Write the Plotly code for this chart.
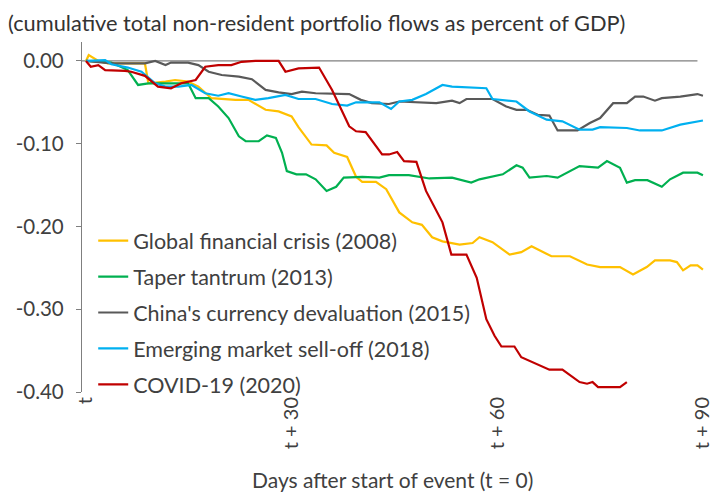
import plotly.graph_objects as go

# days after start of event (t = 0) and cumulative flows (% of GDP)
gfc_days = [0, 0.4, 1.8, 3.2, 8.6, 9.1, 11.6, 13.0, 14.9, 16.4, 18.3, 21.8, 23.7, 26.2, 28.1, 30.0,
            31.0, 32.9, 35.1, 36.2, 38.1, 39.4, 40.3, 42.3, 43.8, 45.7, 47.6, 49.0, 50.5, 52.0, 54.5,
            56.4, 57.4, 59.3, 61.8, 63.5, 65.0, 67.9, 70.6, 73.1, 75.0, 77.9, 79.8, 81.8, 83.0, 85.2,
            86.2, 87.1, 88.2, 89.2, 90.0]
gfc_vals = [0, 0.007, 0.0, -0.003, -0.003, -0.027, -0.025, -0.023, -0.025, -0.031, -0.045, -0.047,
            -0.047, -0.059, -0.061, -0.067, -0.080, -0.101, -0.102, -0.111, -0.116, -0.140, -0.146,
            -0.146, -0.155, -0.183, -0.195, -0.198, -0.213, -0.218, -0.222, -0.220, -0.213, -0.219,
            -0.234, -0.231, -0.224, -0.236, -0.236, -0.246, -0.249, -0.249, -0.258, -0.249, -0.241,
            -0.241, -0.243, -0.253, -0.247, -0.247, -0.252]

taper_days = [0, 1.8, 3.7, 6.1, 7.6, 9.1, 10.5, 12.4, 14.9, 16.0, 17.9, 19.3, 20.8, 22.3, 23.3, 25.2,
              26.4, 27.7, 28.6, 29.3, 30.7, 32.1, 33.5, 35.1, 36.5, 37.6, 40.3, 42.8, 44.2, 47.1,
              50.1, 53.4, 56.2, 57.4, 58.9, 60.8, 62.8, 63.7, 64.7, 67.2, 68.8, 70.1, 72.0, 74.7,
              76.0, 77.9, 78.9, 80.1, 81.9, 84.0, 85.2, 87.1, 89.2, 90.0]
taper_vals = [0, -0.001, -0.002, -0.011, -0.029, -0.027, -0.027, -0.027, -0.027, -0.045, -0.045,
              -0.055, -0.069, -0.091, -0.097, -0.097, -0.090, -0.093, -0.111, -0.133, -0.137,
              -0.137, -0.143, -0.157, -0.152, -0.141, -0.140, -0.141, -0.138, -0.138, -0.142,
              -0.141, -0.147, -0.143, -0.140, -0.137, -0.126, -0.129, -0.141, -0.139, -0.141,
              -0.135, -0.127, -0.129, -0.121, -0.129, -0.147, -0.144, -0.144, -0.152, -0.143,
              -0.135, -0.135, -0.138]

china_days = [0, 3.7, 8.6, 10.1, 11.6, 12.4, 14.9, 16.4, 17.9, 19.8, 22.3, 24.2, 26.2, 28.1, 30.0,
              31.5, 33.5, 38.4, 40.1, 41.7, 44.2, 45.7, 51.1, 52.6, 53.4, 54.5, 55.5, 59.3, 61.3,
              62.8, 64.3, 65.9, 67.6, 68.8, 71.7, 73.5, 75.0, 76.9, 78.9, 80.1, 81.3, 83.0, 84.0,
              86.7, 89.2, 90.0]
china_vals = [0, -0.003, -0.003, 0.0, -0.005, -0.002, -0.002, -0.005, -0.013, -0.017, -0.019,
              -0.022, -0.035, -0.038, -0.040, -0.037, -0.039, -0.040, -0.047, -0.051, -0.052,
              -0.049, -0.051, -0.049, -0.048, -0.051, -0.046, -0.046, -0.055, -0.059, -0.059,
              -0.065, -0.066, -0.084, -0.084, -0.075, -0.069, -0.051, -0.051, -0.043, -0.043,
              -0.048, -0.045, -0.043, -0.040, -0.042]

em_days = [0, 2.8, 3.7, 6.1, 8.1, 10.1, 11.6, 13.5, 15.4, 17.4, 19.3, 20.8, 22.7, 24.7, 26.6, 29.1,
           31.0, 33.5, 35.9, 38.1, 39.4, 42.8, 44.5, 45.7, 47.6, 49.6, 52.0, 53.4, 58.4, 59.3, 62.8,
           64.7, 67.2, 69.5, 72.0, 73.9, 75.0, 78.9, 80.8, 84.0, 86.7, 89.6, 90.0]
em_vals = [0, 0.001, -0.004, -0.008, -0.013, -0.027, -0.031, -0.031, -0.029, -0.039, -0.042,
           -0.039, -0.043, -0.047, -0.045, -0.041, -0.046, -0.046, -0.052, -0.054, -0.050, -0.050,
           -0.058, -0.049, -0.047, -0.040, -0.029, -0.031, -0.033, -0.046, -0.049, -0.061, -0.071,
           -0.073, -0.083, -0.083, -0.080, -0.081, -0.084, -0.084, -0.077, -0.072, -0.072]

covid_days = [0, 0.7, 1.8, 2.8, 5.7, 6.6, 8.6, 10.5, 12.4, 13.9, 16.0, 17.4, 19.3, 21.2, 22.7, 24.7,
              28.1, 29.1, 31.0, 34.0, 35.9, 38.4, 39.4, 40.8, 43.2, 44.2, 45.4, 46.4, 48.2, 49.6,
              52.0, 53.3, 55.5, 57.0, 58.4, 59.6, 60.6, 62.5, 63.5, 66.2, 67.6, 69.5, 72.0, 73.1,
              73.9, 74.7, 77.9, 78.9]
covid_vals = [0, -0.007, -0.005, -0.011, -0.012, -0.013, -0.018, -0.031, -0.033, -0.027, -0.023,
              -0.007, -0.005, -0.005, -0.001, 0.0, 0.0, -0.013, -0.009, -0.008, -0.035, -0.079,
              -0.085, -0.086, -0.113, -0.113, -0.110, -0.121, -0.122, -0.157, -0.195, -0.234,
              -0.234, -0.262, -0.312, -0.332, -0.345, -0.345, -0.358, -0.368, -0.373, -0.373,
              -0.388, -0.390, -0.388, -0.394, -0.394, -0.388]

series = [
    ("Global financial crisis (2008)", gfc_days, gfc_vals, "#FFC000"),
    ("Taper tantrum (2013)", taper_days, taper_vals, "#00B050"),
    ("China's currency devaluation (2015)", china_days, china_vals, "#595959"),
    ("Emerging market sell-off (2018)", em_days, em_vals, "#00B0F0"),
    ("COVID-19 (2020)", covid_days, covid_vals, "#C00000"),
]

y_ticks = [0.0, -0.1, -0.2, -0.3, -0.4]
y_labels = ["0.00", "-0.10", "-0.20", "-0.30", "-0.40"]
x_ticks = [0, 30, 60, 90]
x_labels = ["t", "t + 30", "t + 60", "t + 90"]

FONT = "Lato"
TXT = "#404040"

fig = go.Figure()

# zero line (category axis crosses here)
fig.add_shape(type="line", xref="x", yref="y", x0=-0.9, x1=89.2, y0=0, y1=0,
              line=dict(color="#7f7f7f", width=1.3), layer="below")

for name, xs, ys, col in series:
    fig.add_trace(go.Scatter(x=xs, y=ys, mode="lines", name=name, legendgroup=name,
                             line=dict(color=col, width=2.2)))

fig.update_layout(
    width=712, height=494,
    margin=dict(l=82, r=7, t=42, b=102),
    paper_bgcolor="white", plot_bgcolor="white",
    font=dict(family=FONT, size=20, color=TXT),
    showlegend=True,
    legend=dict(x=0.018, y=0.491, xanchor="left", yanchor="top", bgcolor="rgba(0,0,0,0)",
                font=dict(size=21.5, color=TXT), tracegroupgap=5, traceorder="grouped",
                itemwidth=30),
    xaxis=dict(range=[-0.58, 90.3], showgrid=False, zeroline=False, showline=False,
               tickmode="array", tickvals=x_ticks, ticktext=x_labels, tickangle=-90,
               ticks="", tickfont=dict(size=20, color=TXT), automargin=False,
               ticklabeloverflow="allow"),
    yaxis=dict(range=[-0.40, 0.0229], showgrid=False, zeroline=False, showline=True,
               linecolor="#7f7f7f", linewidth=1.3, ticks="outside", ticklen=5,
               tickcolor="#7f7f7f", tickmode="array", tickvals=y_ticks, ticktext=y_labels,
               tickfont=dict(size=20.5, color=TXT), automargin=False, ticklabelstandoff=8),
    annotations=[
        dict(text="(cumulative total non-resident portfolio flows as percent of GDP)",
             xref="paper", yref="paper", x=-0.122, y=1.055, xanchor="left", yanchor="middle",
             showarrow=False, font=dict(size=21.8, color="#333333")),
        dict(text="Days after start of event (t = 0)", xref="paper", yref="paper",
             x=0.499, y=-0.251, xanchor="center", yanchor="middle", showarrow=False,
             font=dict(size=21, color=TXT)),
    ],
)

fig.write_html("out.html", config={"displayModeBar": False},
               post_script="document.body.style.margin='0';")
